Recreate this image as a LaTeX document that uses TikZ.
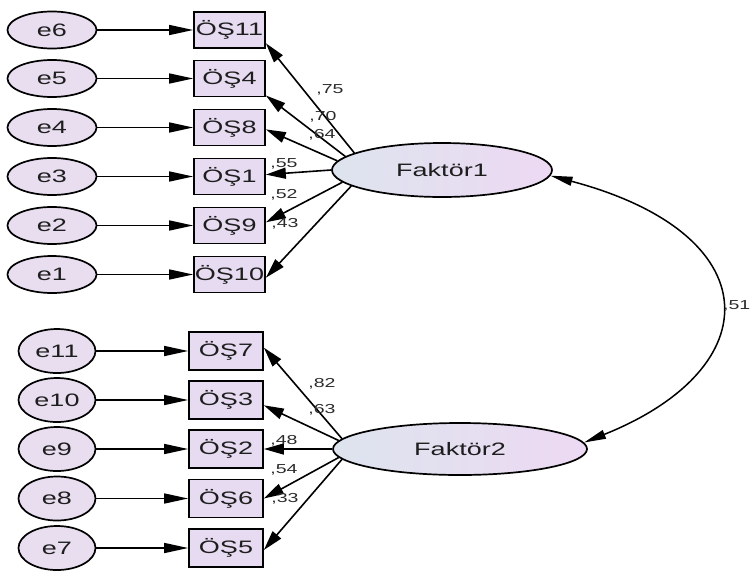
\documentclass[tikz,border=0pt]{standalone}
\usepackage{fontspec}
\setmainfont[FakeStretch=1.5]{Liberation Sans}
\usetikzlibrary{shapes.geometric,arrows.meta,calc}
\definecolor{efill}{HTML}{E8DEF0}
\definecolor{bfill}{HTML}{E6DBF1}
\definecolor{fleft}{HTML}{DDE4EE}
\definecolor{fright}{HTML}{EDD9F3}
\definecolor{txt}{HTML}{1E1E1E}
\definecolor{lbl}{HTML}{2A2A2A}
\begin{document}
\begin{tikzpicture}[x=1pt,y=-1pt,
  nfont/.style={font=\fontsize{18}{21}\selectfont, text=txt},
  err/.style={ellipse, draw, line width=1.7pt, fill=efill, inner sep=0pt, nfont},
  errtop/.style={err, minimum width=89pt, minimum height=37pt},
  errbot/.style={err, minimum width=77pt, minimum height=44pt},
  obs/.style={rectangle, draw, line width=1.7pt, fill=bfill, inner sep=0pt, nfont},
  obstop/.style={obs, minimum width=71pt, minimum height=36pt},
  obsbot/.style={obs, minimum width=74pt, minimum height=38pt},
  fac/.style={ellipse, draw, line width=1.7pt, left color=fleft, right color=fright, inner sep=0pt, nfont},
  arr/.style={line width=1.5pt, -{Triangle[length=24pt,width=10pt]}},
  farr/.style={line width=1.6pt, -{Triangle[length=20pt,width=11pt]}},
  carr/.style={line width=1.5pt, {Triangle[length=22pt,width=9pt]}-{Triangle[length=22pt,width=9pt]}},
  lab/.style={font=\fontsize{13}{15}\selectfont, text=lbl, inner sep=0pt}
]
\useasboundingbox (0,0) rectangle (751,573);

% top group
\node[errtop] (e6) at (52,30) {e6};
\node[errtop] (e5) at (52,78.5) {e5};
\node[errtop] (e4) at (52,127.5) {e4};
\node[errtop] (e3) at (52,176.5) {e3};
\node[errtop] (e2) at (52,225.5) {e2};
\node[errtop] (e1) at (52,274.5) {e1};
\node[obstop] (b11) at (229.5,30) {ÖŞ11};
\node[obstop] (b4) at (229.5,78.5) {ÖŞ4};
\node[obstop] (b8) at (229.5,127.5) {ÖŞ8};
\node[obstop] (b1) at (229.5,176.5) {ÖŞ1};
\node[obstop] (b9) at (229.5,225.5) {ÖŞ9};
\node[obstop] (b10) at (229.5,274.5) {ÖŞ10};
\node[fac, minimum width=220pt, minimum height=54pt] (F1) at (442,170) {Faktör1};

% bottom group
\node[errbot] (e11) at (57,351) {e11};
\node[errbot] (e10) at (57,400) {e10};
\node[errbot] (e9) at (57,449) {e9};
\node[errbot] (e8) at (57,498.5) {e8};
\node[errbot] (e7) at (57,548) {e7};
\node[obsbot] (b7) at (226,351) {ÖŞ7};
\node[obsbot] (b3) at (226,400) {ÖŞ3};
\node[obsbot] (b2) at (226,449) {ÖŞ2};
\node[obsbot] (b6) at (226,498.5) {ÖŞ6};
\node[obsbot] (b5) at (226,548) {ÖŞ5};
\node[fac, minimum width=254pt, minimum height=52pt] (F2) at (460,449) {Faktör2};

% error arrows
\foreach \e/\b in {e6/b11,e5/b4,e4/b8,e3/b1,e2/b9,e1/b10,e11/b7,e10/b3,e9/b2,e8/b6,e7/b5}
  \draw[arr] (\e) -- (\b);

% loadings factor 1
\draw[farr] (F1.169) -- (b11.-20);
\draw[farr] (F1.172) -- (b4.-25);
\draw[farr] (F1.175) -- (b8.-3);
\draw[farr] (F1.180) -- (b1.3);
\draw[farr] (F1.187) -- (b9.5);
\draw[farr] (F1.190) -- (b10.-5);

% loadings factor 2
\draw[farr] (F2.175) -- (b7.5);
\draw[farr] (F2.176.5) -- (b3.-8);
\draw[farr] (F2.180) -- (b2.0);
\draw[farr] (F2.184) -- (b6.0);
\draw[farr] (F2.185.5) -- (b5.-3);

% covariance
\coordinate (c1) at (770,234);
\coordinate (c2) at (770,368);
\draw[carr] (F1.-3) .. controls (c1) and (c2) .. (F2.3);

% labels
\node[lab] (l75) at (330,90) {,75};
\node[lab] (l70) at (323,117) {,70};
\node[lab] (l64) at (322,135) {,64};
\node[lab] (l55) at (284,164) {,55};
\node[lab] (l52) at (284,195) {,52};
\node[lab] (l43) at (285,224) {,43};
\node[lab] (l82) at (322,384) {,82};
\node[lab] (l63) at (322,410) {,63};
\node[lab] (l48) at (284,441) {,48};
\node[lab] (l54) at (284,470) {,54};
\node[lab] (l33) at (285,499) {,33};
\node[lab, anchor=east] (l51) at (750.5,306) {,51};
\end{tikzpicture}
\end{document}
